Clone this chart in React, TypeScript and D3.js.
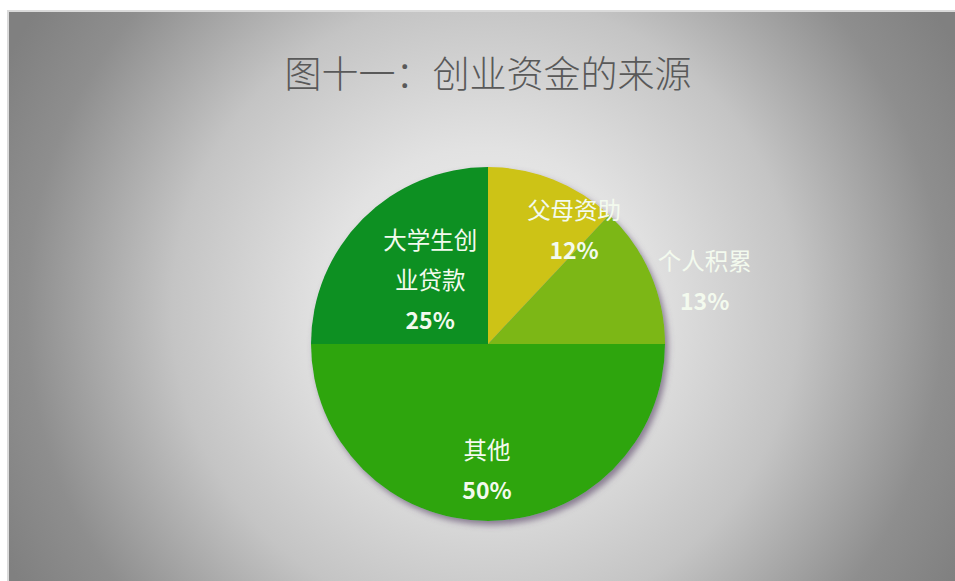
import React from "react";
import * as d3 from "d3";

const categories = ["父母资助", "个人积累", "其他", "大学生创业贷款"];
const values = [12, 13, 50, 25];
const labelLines = [["父母资助"], ["个人积累"], ["其他"], ["大学生创", "业贷款"]];
const colors = ["#cdc316", "#7cb713", "#2ea50c", "#0b9024"];
const title = "图十一：创业资金的来源";

// layout: label radius factor and nudges (layout only)
const labelLayout = [
  { k: 0.8, dx: 34, dy: 17 },
  { k: 1.1, dx: 38, dy: 13 },
  { k: 0.7, dx: -1, dy: 1 },
  { k: 0.55, dx: 11, dy: 4 },
];

const W = 955;
const H = 581;
const cx = 488;
const cy = 344;
const R = 177;

export default function App() {
  const pie = d3.pie<number>().sort(null).value((d) => d);
  const arcs = pie(values);
  const arc = d3.arc<d3.PieArcDatum<number>>().innerRadius(0).outerRadius(R);
  const font = "'Noto Sans CJK SC', 'Noto Sans', sans-serif";
  const lineH = 40;

  return (
    <svg
      width={W}
      height={H}
      style={{ position: "absolute", left: 0, top: 0, display: "block" }}
    >
      <defs>
        <radialGradient id="bg" gradientUnits="userSpaceOnUse" cx={485} cy={310} r={540}>
          <stop offset="0" stopColor="#f2f2f2" />
          <stop offset="0.3" stopColor="#e2e2e2" />
          <stop offset="0.58" stopColor="#c4c4c4" />
          <stop offset="0.85" stopColor="#8e8e8e" />
          <stop offset="1" stopColor="#808080" />
        </radialGradient>
        <filter id="shadow" x="-20%" y="-20%" width="140%" height="140%">
          <feDropShadow dx="3" dy="4" stdDeviation="3" floodColor="#5b4a6b" floodOpacity="0.65" />
        </filter>
      </defs>
      <rect x={0} y={0} width={W} height={H} fill="#ffffff" />
      <rect x={7} y={10} width={W - 7} height={H - 10} fill="#dadada" />
      <rect x={9} y={12} width={W - 9} height={H - 12} fill="url(#bg)" />
      <text
        x={cx}
        y={72}
        textAnchor="middle"
        dominantBaseline="central"
        fontFamily={font}
        fontSize={37}
        fontWeight={300}
        fill="#595959"
      >
        {title}
      </text>
      <g transform={`translate(${cx},${cy})`}>
        <g filter="url(#shadow)">
          {arcs.map((a, i) => (
            <path key={categories[i]} d={arc(a) || ""} fill={colors[i]} />
          ))}
        </g>
        {arcs.map((a, i) => {
          const L = labelLayout[i];
          const la = d3.arc<d3.PieArcDatum<number>>().innerRadius(R * L.k).outerRadius(R * L.k);
          const [x0, y0] = la.centroid(a);
          const x = x0 + L.dx;
          const lines = [...labelLines[i], `${values[i]}%`];
          const top = y0 + L.dy - ((lines.length - 1) * lineH) / 2;
          return (
            <g key={"l" + i}>
              {lines.map((t, j) => (
                <text
                  key={j}
                  x={x}
                  y={top + j * lineH}
                  textAnchor="middle"
                  dominantBaseline="central"
                  fontFamily={font}
                  fontSize={j === lines.length - 1 ? 23 : 23.5}
                  fontWeight={j === lines.length - 1 ? 700 : 400}
                  fill="#f3faee"
                >
                  {t}
                </text>
              ))}
            </g>
          );
        })}
      </g>
    </svg>
  );
}
